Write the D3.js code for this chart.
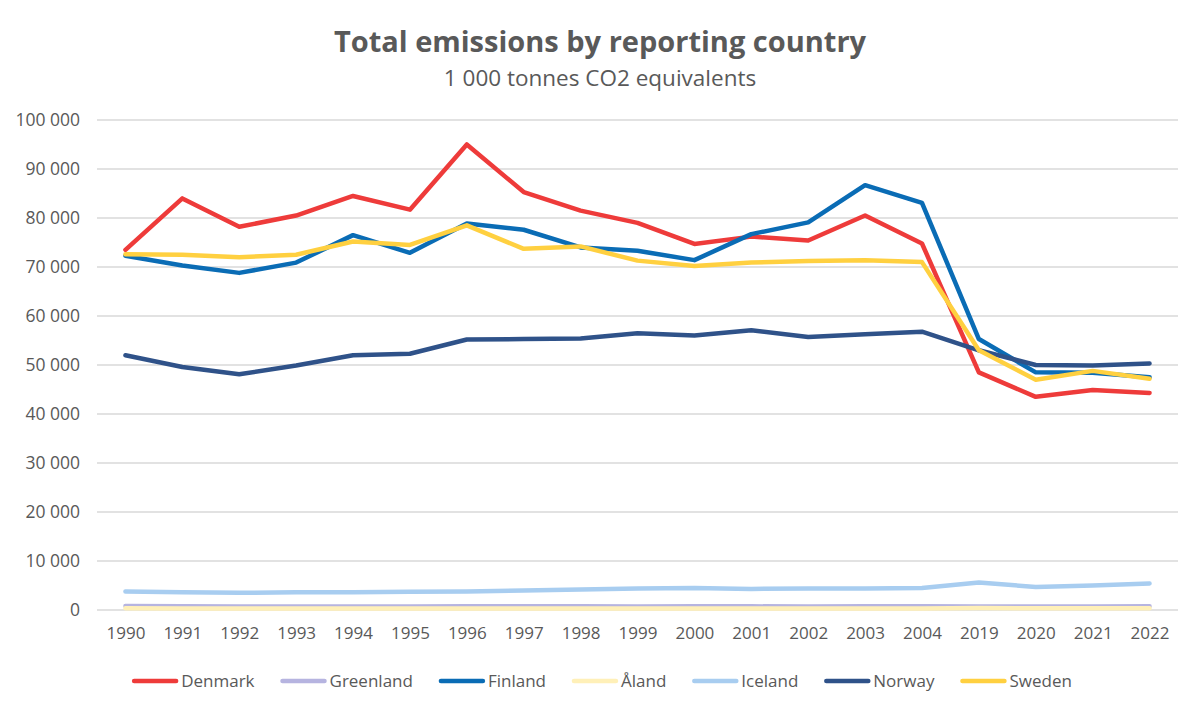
<!DOCTYPE html>
<html>
<head>
<meta charset="utf-8">
<script src="https://cdn.jsdelivr.net/npm/d3@7"></script>
<style>
  body { margin:0; background:#fff; }
  text { font-family:"Open Sans", "Liberation Sans", sans-serif; fill:#595959; }
</style>
</head>
<body>
<div id="chart"></div>
<script>
// years on the category axis
var years = ['1990','1991','1992','1993','1994','1995','1996','1997','1998','1999',
             '2000','2001','2002','2003','2004','2019','2020','2021','2022']

// values in 1 000 tonnes CO2 eq
var denmark   = [73500,84000,78200,80500,84500,81700,95000,85300,81500,79000,74700,76200,75400,80500,74800,48500,43500,44900,44300]
var greenland = [800,750,700,700,700,700,750,750,750,700,750,750,700,750,750,700,700,700,750]
var finland   = [72300,70300,68800,70900,76500,72900,78900,77600,74000,73300,71400,76700,79100,86700,83100,55300,48500,48400,47500]
var aland     = [350,300,300,300,300,300,300,300,300,300,300,300,300,300,300,400,350,350,350]
var iceland   = [3800,3600,3500,3600,3600,3700,3800,4000,4200,4400,4500,4300,4400,4400,4500,5600,4700,5000,5400]
var norway    = [52000,49600,48100,49900,52000,52300,55200,55300,55400,56500,56000,57100,55700,56300,56800,53000,50000,49900,50300]
var sweden    = [72600,72500,72000,72500,75200,74500,78500,73700,74200,71300,70200,70900,71200,71400,71000,53000,47000,48800,47200]

var yTicks = [0,10000,20000,30000,40000,50000,60000,70000,80000,90000,100000]

var series = [
  { name:'Denmark',   values:denmark,   color:'#ee3b3a' },
  { name:'Greenland', values:greenland, color:'#b6b4e0' },
  { name:'Finland',   values:finland,   color:'#0a6cb5' },
  { name:'Åland',     values:aland,     color:'#fff0b8' },
  { name:'Iceland',   values:iceland,   color:'#a8cdf0' },
  { name:'Norway',    values:norway,    color:'#2f5289' },
  { name:'Sweden',    values:sweden,    color:'#ffd040' }
]

var W = 1200, H = 712
var m = { top:120, right:22, bottom:102, left:97 }

var svg = d3.select('#chart').append('svg')
    .attr('width', W)
    .attr('height', H)

// title + subtitle
svg.append('text')
    .attr('x', 600).attr('y', 52)
    .attr('text-anchor', 'middle')
    .style('font-size', '29px').style('font-weight', 'bold')
    .text('Total emissions by reporting country')
svg.append('text')
    .attr('x', 600).attr('y', 86)
    .attr('text-anchor', 'middle')
    .style('font-size', '22.5px')
    .text('1 000 tonnes CO2 equivalents')

var x = d3.scalePoint()
    .domain(years)
    .range([m.left, W - m.right])
    .padding(0.5)

var y = d3.scaleLinear()
    .domain([0, 100000])
    .range([H - m.bottom, m.top])

var fmt = d => d3.format(',')(d).replace(/,/g, ' ')

// gridlines
svg.append('g')
    .selectAll('line')
    .data(yTicks)
  .enter().append('line')
    .attr('x1', m.left).attr('x2', W - m.right)
    .attr('y1', d => y(d)).attr('y2', d => y(d))
    .style('stroke', '#d9d9d9')
    .style('stroke-width', 1.5)

// y axis labels
var yAxis = svg.append('g')
    .attr('transform', 'translate(' + (m.left - 17) + ',0)')
    .call(d3.axisLeft(y).tickValues(yTicks).tickFormat(fmt).tickSize(0).tickPadding(0))
yAxis.select('.domain').remove()
yAxis.selectAll('text').style('font-size', '17.5px').style('fill', '#595959')
    .style('font-family', '"Open Sans", sans-serif')

// x axis labels
var xAxis = svg.append('g')
    .attr('transform', 'translate(0,' + (H - m.bottom) + ')')
    .call(d3.axisBottom(x).tickSize(0).tickPadding(17))
xAxis.select('.domain').remove()
xAxis.selectAll('text').style('font-size', '17px').style('fill', '#595959')
    .style('font-family', '"Open Sans", sans-serif')

// lines
var line = d3.line()
    .x((d, i) => x(years[i]))
    .y(d => y(d))

svg.append('g')
    .selectAll('path')
    .data(series)
  .enter().append('path')
    .style('fill', 'none')
    .style('stroke', d => d.color)
    .style('stroke-width', 4.5)
    .style('stroke-linejoin', 'round')
    .style('stroke-linecap', 'round')
    .attr('d', d => line(d.values))

// legend, laid out from measured label widths
var legW = 46, legGap = 26
var leg = svg.append('g')
var items = leg.selectAll('g')
    .data(series)
  .enter().append('g')
items.append('line')
    .attr('x1', 2).attr('x2', legW - 2)
    .style('stroke', d => d.color)
    .style('stroke-width', 4.5)
    .style('stroke-linecap', 'round')
items.append('text')
    .attr('x', legW + 3).attr('dy', '.35em')
    .style('font-size', '17px')
    .text(d => d.name)

var cx = 0
items.each(function(d) {
    var tw = d3.select(this).select('text').node().getComputedTextLength()
    d.lx = cx
    cx += legW + 3 + tw + legGap
})
var total = cx - legGap
var x0 = 602 - total / 2
items.attr('transform', d => 'translate(' + (x0 + d.lx) + ',681)')
</script>
</body>
</html>
